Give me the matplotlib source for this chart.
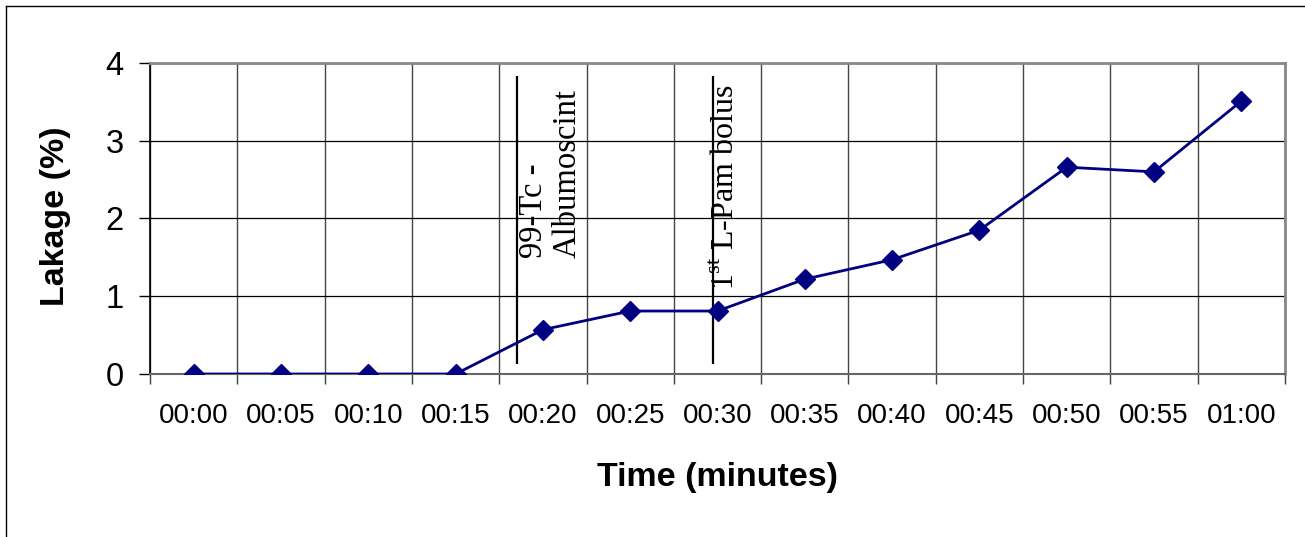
import matplotlib.pyplot as plt
from matplotlib.lines import Line2D

plt.rcParams['font.family'] = ['Liberation Sans', 'DejaVu Sans']
plt.rcParams['mathtext.fontset'] = 'custom'
plt.rcParams['mathtext.rm'] = 'Liberation Serif'

times = ['00:00', '00:05', '00:10', '00:15', '00:20', '00:25', '00:30',
         '00:35', '00:40', '00:45', '00:50', '00:55', '01:00']
leakage = [0, 0, 0, 0, 0.57, 0.81, 0.81, 1.22, 1.47, 1.85, 2.66, 2.60, 3.51]

# events marked by vertical lines (category position, text)
event_x = [3.70, 5.95]
event_labels = ['99-Tc -\nAlbumoscint', r'1$^{\mathrm{st}}$ L-Pam bolus']

W, H = 1305, 537
fig = plt.figure(figsize=(W / 100, H / 100), dpi=100)
ax = fig.add_axes([150 / W, (H - 374) / H, 1135 / W, 311 / H])

x = list(range(len(times)))
ax.plot(x, leakage, color='#000080', lw=2.0, marker='D', ms=10.5, zorder=3)

ax.set_xlim(-0.5, len(times) - 0.5)
ax.set_ylim(0, 4)
ax.set_yticks([0, 1, 2, 3, 4])
ax.set_xticks(x)
ax.set_xticklabels(times)
ax.set_xticks([i - 0.5 for i in range(len(times) + 1)], minor=True)

ax.tick_params(axis='x', which='major', length=0, pad=21, labelsize=20)
ax.tick_params(axis='x', which='minor', length=7, width=1, color='#404040', direction='out')
ax.tick_params(axis='y', length=8, width=1, pad=11, labelsize=23.5, direction='out')

ax.grid(True, axis='y', color='black', lw=0.9)
ax.grid(True, axis='x', which='minor', color='#444444', lw=1.0)
ax.set_axisbelow(True)

for s in ['top', 'right']:
    ax.spines[s].set_color('#888888')
    ax.spines[s].set_linewidth(2)
ax.spines['bottom'].set_color('#666666')
ax.spines['bottom'].set_linewidth(1.5)
ax.spines['left'].set_color('black')
ax.spines['left'].set_linewidth(1.2)

ax.vlines(event_x, 0.13, 3.83, color='black', lw=1.6, zorder=2)
ax.text(event_x[0] + 0.39, 1.49, event_labels[0], rotation=90, ha='center', va='bottom',
        family=['Liberation Serif'], fontsize=23.5, multialignment='left', linespacing=1.15)
ax.text(event_x[1] + 0.15, 1.08, event_labels[1], rotation=90, ha='center', va='bottom',
        family=['Liberation Serif'], fontsize=23)

ax.set_xlabel('Time (minutes)', fontsize=24.5, fontweight='bold')
ax.set_ylabel('Lakage (%)', fontsize=24.5, fontweight='bold')
ax.xaxis.set_label_coords(0.5, -0.334)
ax.yaxis.set_label_coords(-0.0837, 0.508)
ax.xaxis.label.set_va('center')
ax.yaxis.label.set_va('center')

# outer chart frame (left and top edges visible)
fig.add_artist(Line2D([6 / W, 6 / W], [0, 1 - 6 / H], color='black', lw=1))
fig.add_artist(Line2D([6 / W, 1], [1 - 6 / H, 1 - 6 / H], color='black', lw=1))

fig.savefig('out.png', dpi=100)
